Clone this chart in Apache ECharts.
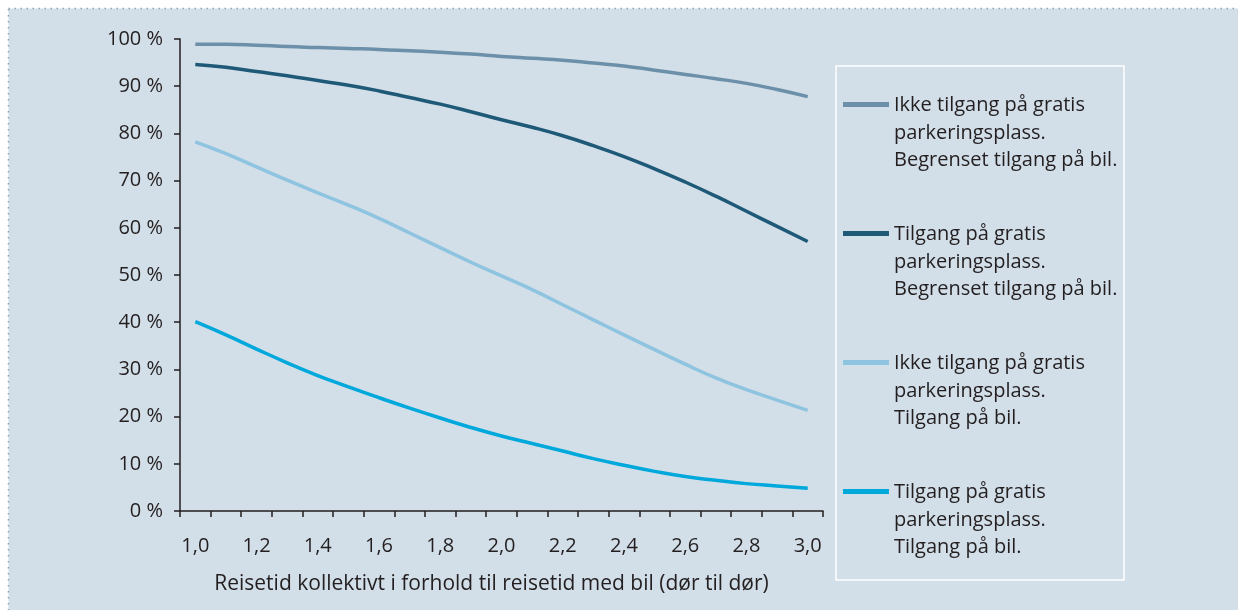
<!DOCTYPE html>
<html>
<head>
<meta charset="utf-8">
<script src="https://cdn.jsdelivr.net/npm/echarts@6/dist/echarts.min.js"></script>
<style>
  html, body { margin: 0; padding: 0; background: #ffffff; }
  #chart { width: 1238px; height: 610px; }
</style>
</head>
<body>
<div id="chart"></div>
<script>
// ---- Data ----
const categories = ['1,0','1,1','1,2','1,3','1,4','1,5','1,6','1,7','1,8','1,9','2,0',
                    '2,1','2,2','2,3','2,4','2,5','2,6','2,7','2,8','2,9','3,0'];

const seriesNames = [
  'Ikke tilgang på gratis\nparkeringsplass.\nBegrenset tilgang på bil.',
  'Tilgang på gratis\nparkeringsplass.\nBegrenset tilgang på bil.',
  'Ikke tilgang på gratis\nparkeringsplass.\nTilgang på bil.',
  'Tilgang på gratis\nparkeringsplass.\nTilgang på bil.'
];

const ikkeGratisBegrenset = [98.9, 98.9, 98.7, 98.4, 98.2, 98.0, 97.8, 97.5, 97.2, 96.8, 96.3,
                             95.9, 95.5, 94.9, 94.3, 93.4, 92.5, 91.6, 90.6, 89.3, 87.8];
const gratisBegrenset      = [94.6, 94.0, 93.1, 92.2, 91.2, 90.2, 89.0, 87.6, 86.2, 84.6, 82.9,
                             81.3, 79.5, 77.4, 75.1, 72.5, 69.7, 66.7, 63.5, 60.3, 57.1];
const ikkeGratisTilgang    = [78.2, 75.7, 72.9, 70.1, 67.4, 64.8, 62.0, 58.9, 55.8, 52.7, 49.8,
                             46.9, 43.7, 40.5, 37.3, 34.2, 31.1, 28.2, 25.7, 23.5, 21.3];
const gratisTilgang        = [40.1, 37.3, 34.3, 31.4, 28.7, 26.3, 24.0, 21.8, 19.7, 17.7, 15.9,
                             14.3, 12.7, 11.1, 9.7, 8.4, 7.3, 6.5, 5.8, 5.3, 4.8];

const yTicks = { min: 0, max: 100, interval: 10 };
const xAxisTitle = 'Reisetid kollektivt i forhold til reisetid med bil (dør til dør)';

// ---- Styles ----
const colors = ['#6c90a9', '#1e5a78', '#8ec4e0', '#00a8dc'];
const textColor = '#231f20';
const fontFamily = '"Open Sans", "Noto Sans", sans-serif';

const chart = echarts.init(document.getElementById('chart'), null, { renderer: 'canvas' });

const allData = [ikkeGratisBegrenset, gratisBegrenset, ikkeGratisTilgang, gratisTilgang];

const option = {
  backgroundColor: '#ffffff',
  animation: false,
  color: colors,
  textStyle: { fontFamily: fontFamily },
  graphic: [
    {
      type: 'rect', z: -10, silent: true,
      shape: { x: 8.5, y: 8.5, width: 1250, height: 620 },
      style: { fill: '#d2dee8', stroke: '#8fa3b3', lineWidth: 1.5, lineDash: [1.5, 4.5] }
    },
    {
      type: 'rect', z: -5, silent: true,
      shape: { x: 836, y: 66, width: 288, height: 514 },
      style: { fill: 'none', stroke: '#ffffff', lineWidth: 1.5 }
    }
  ],
  grid: { left: 180, right: 415, top: 39, bottom: 99, containLabel: false },
  legend: {
    orient: 'vertical',
    left: 843,
    top: 92,
    padding: 0,
    itemWidth: 46,
    itemHeight: 82.5,
    itemGap: 46.5,
    icon: 'path://M0,0L0.01,0M0,10L46,10L46,15L0,15ZM0,82.5L0.01,82.5',
    itemStyle: { borderWidth: 0 },
    textStyle: { fontSize: 20, lineHeight: 27.5, color: textColor, fontFamily: fontFamily },
    data: seriesNames
  },
  xAxis: {
    type: 'category',
    data: categories,
    boundaryGap: true,
    axisLine: { show: true, lineStyle: { color: textColor, width: 1.5 } },
    axisTick: { show: true, interval: 0, length: 6, alignWithLabel: false, lineStyle: { color: textColor, width: 1.5 } },
    axisLabel: { interval: 1, margin: 25, fontSize: 20, color: textColor, fontFamily: fontFamily },
    splitLine: { show: false },
    name: xAxisTitle,
    nameLocation: 'middle',
    nameGap: 63,
    nameTextStyle: { fontSize: 21, color: textColor, fontFamily: fontFamily, padding: [0, 20, 0, 0] }
  },
  yAxis: {
    type: 'value',
    min: yTicks.min,
    max: yTicks.max,
    interval: yTicks.interval,
    axisLine: { show: true, lineStyle: { color: textColor, width: 1.5 } },
    axisTick: { show: true, length: 6, lineStyle: { color: textColor, width: 1.5 } },
    axisLabel: { formatter: '{value} %', margin: 17, fontSize: 20, color: textColor, fontFamily: fontFamily },
    splitLine: { show: false }
  },
  series: seriesNames.map((name, i) => ({
    name: name,
    type: 'line',
    data: allData[i],
    smooth: true,
    symbol: 'none',
    lineStyle: { width: 3.5, color: colors[i], cap: 'butt' },
    itemStyle: { color: colors[i] }
  }))
};

chart.setOption(option);
</script>
</body>
</html>
